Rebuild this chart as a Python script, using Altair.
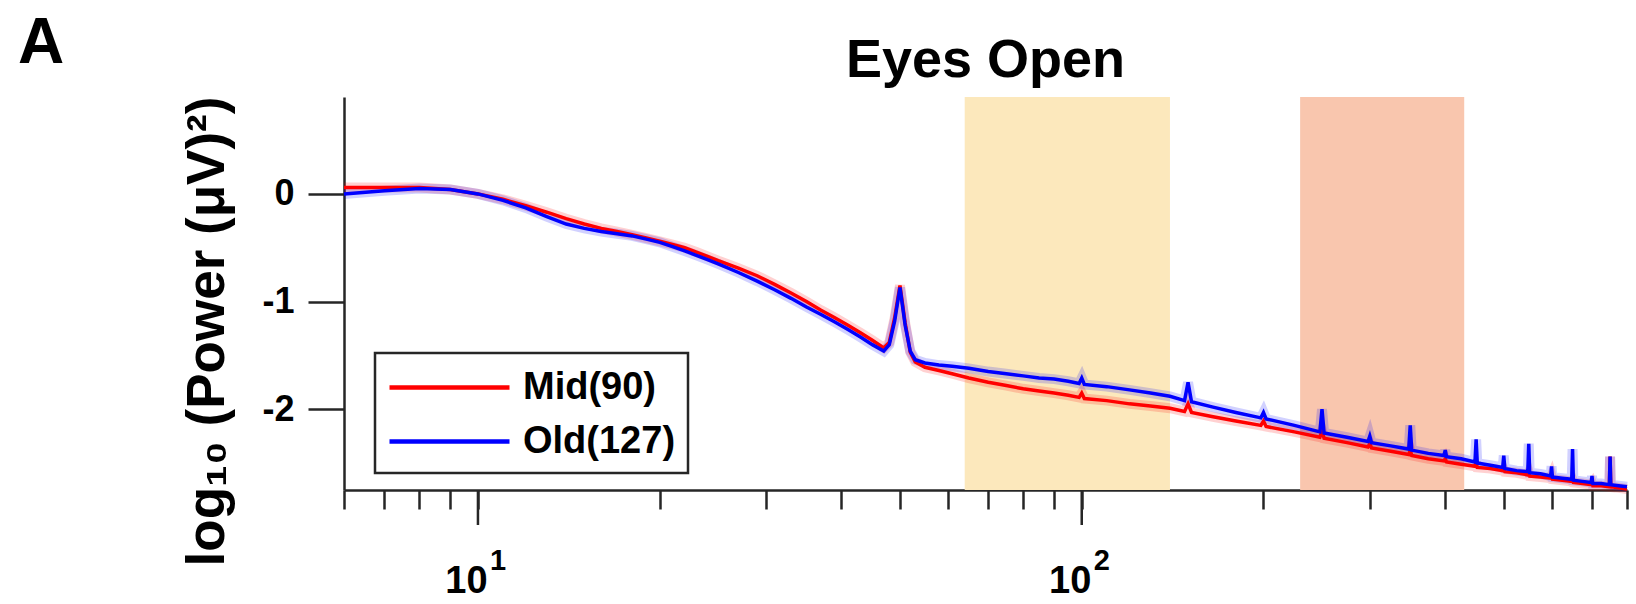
import altair as alt
import pandas as pd

# ---- spectrum data: frequency (Hz) and log10 power for the two age groups ----
freq = [6, 7, 8, 9, 10, 11, 12, 13, 14, 15, 16, 17, 18, 19, 20, 21, 22, 23, 24, 25,
        27, 29, 31, 33, 35, 37, 39, 41, 43, 45, 47, 48, 49, 50, 51, 52, 53, 55, 58, 61,
        65, 70, 75, 80, 85, 90, 95, 99, 100, 101, 110, 120, 130, 140, 148, 150, 152,
        165, 180, 198, 200, 202, 225, 248, 250, 252, 275, 298, 300, 302, 325, 348, 350,
        352, 375, 398, 400, 402, 425, 448, 450, 452, 475, 498, 500, 502, 525, 548, 550,
        552, 575, 598, 600, 602, 625, 648, 650, 652, 675, 698, 700, 702, 725, 748, 750,
        752, 775, 800]

mid_power = [0.06, 0.06, 0.06, 0.04, 0.00, -0.05, -0.11, -0.17, -0.23, -0.28, -0.32, -0.35,
             -0.38, -0.41, -0.44, -0.47, -0.50, -0.54, -0.58, -0.62,
             -0.69, -0.76, -0.84, -0.92, -1.00, -1.08, -1.15, -1.22, -1.29, -1.36, -1.43,
             -1.38, -1.15, -0.85, -1.20, -1.47, -1.56, -1.61, -1.64, -1.67,
             -1.71, -1.75, -1.78, -1.81, -1.83, -1.85, -1.87, -1.89, -1.85, -1.90, -1.92,
             -1.95, -1.97, -1.99, -2.02, -1.95, -2.03,
             -2.07, -2.11, -2.15, -2.11, -2.16, -2.21, -2.26, -2.20, -2.27, -2.31, -2.35,
             -2.32, -2.36, -2.39, -2.42, -2.38,
             -2.43, -2.46, -2.48, -2.46, -2.49, -2.51, -2.53, -2.49, -2.54, -2.55, -2.57,
             -2.56, -2.58, -2.59, -2.61, -2.59,
             -2.62, -2.63, -2.64, -2.62, -2.65, -2.66, -2.67, -2.66, -2.68, -2.69, -2.70,
             -2.69, -2.71, -2.71, -2.72, -2.44,
             -2.72, -2.73, -2.74]

old_power = [0.00, 0.03, 0.05, 0.04, 0.00, -0.06, -0.13, -0.21, -0.28, -0.32, -0.35, -0.37,
             -0.39, -0.42, -0.45, -0.49, -0.53, -0.57, -0.61, -0.65,
             -0.73, -0.81, -0.89, -0.97, -1.05, -1.12, -1.19, -1.26, -1.33, -1.40, -1.46,
             -1.40, -1.18, -0.87, -1.22, -1.46, -1.54, -1.57, -1.59, -1.60,
             -1.62, -1.65, -1.67, -1.69, -1.71, -1.72, -1.74, -1.76, -1.71, -1.77, -1.79,
             -1.82, -1.85, -1.88, -1.92, -1.75, -1.93,
             -1.98, -2.03, -2.08, -2.03, -2.09, -2.15, -2.21, -2.00, -2.22, -2.26, -2.30,
             -2.25, -2.31, -2.34, -2.37, -2.15,
             -2.38, -2.41, -2.43, -2.38, -2.44, -2.46, -2.49, -2.28, -2.50, -2.52, -2.54,
             -2.43, -2.55, -2.57, -2.58, -2.32,
             -2.59, -2.60, -2.62, -2.53, -2.63, -2.64, -2.65, -2.37, -2.66, -2.67, -2.68,
             -2.62, -2.69, -2.69, -2.70, -2.44,
             -2.70, -2.71, -2.72]

group_names = ["Mid(90)", "Old(127)"]
group_colors = ["#ff0000", "#0000ff"]

# shaded frequency bands (Hz)
band_low = [64, 230]
band_high = [140, 430]
band_colors = ["#fce8bc", "#f9c6ae"]

x_tick_values = [6, 7, 8, 9, 10, 20, 30, 40, 50, 60, 70, 80, 90,
                 100, 200, 300, 400, 500, 600, 700, 800]
x_decades = [10, 100]
x_decade_exponents = ["1", "2"]
y_tick_values = [0, -1, -2]
panel_label = ["A"]
panel_title = ["Eyes Open"]

FONT = "Liberation Sans"
INK = "#262626"
W, H = 1283, 393

spectra = pd.DataFrame({
    "freq": freq + freq,
    "power": mid_power + old_power,
    "group": [group_names[0]] * len(freq) + [group_names[1]] * len(freq),
})
bands = pd.DataFrame({"freq": band_low, "hi": band_high, "fill": band_colors})
decades = pd.DataFrame({"freq": x_decades, "exp": x_decade_exponents})
label_df = pd.DataFrame({"t": panel_label})
title_df = pd.DataFrame({"t": panel_title})

x_scale = alt.Scale(type="log", domain=[6, 800], nice=False)
y_scale = alt.Scale(domain=[-2.75, 0.9], nice=False, zero=False)

x_axis = alt.Axis(
    title=None,
    values=x_tick_values,
    tickSize=19,
    tickWidth=2.5,
    tickColor=INK,
    domainColor=INK,
    domainWidth=2.5,
    labelExpr="(datum.value == 10 || datum.value == 100) ? '10' : ''",
    labelFont=FONT,
    labelFontSize=38,
    labelFontWeight="bold",
    labelColor="black",
    labelPadding=53,
    labelOffset=-12,
    labelBaseline="top",
    labelFlush=False,
    labelOverlap=False,
    grid=False,
)
y_axis = alt.Axis(
    title="log₁₀ (Power (μV)²)",
    values=y_tick_values,
    tickSize=36,
    tickWidth=2.5,
    tickColor=INK,
    domainColor=INK,
    domainWidth=2.5,
    labelExpr="'' + datum.value",
    labelFont=FONT,
    labelFontSize=36,
    labelFontWeight="bold",
    labelColor="black",
    labelPadding=14,
    grid=False,
    titleFont=FONT,
    titleFontSize=53,
    titleFontWeight="bold",
    titleColor="black",
    titleAngle=270,
    titleAlign="center",
    titleBaseline="middle",
    titleX=-137,
    titleY=234,
)
X = alt.X("freq:Q", scale=x_scale, axis=x_axis)
Y = alt.Y("power:Q", scale=y_scale, axis=y_axis)
color_scale = alt.Scale(domain=group_names, range=group_colors)

band_layer = alt.Chart(bands).mark_rect().encode(
    x=X,
    x2="hi:Q",
    y=alt.value(0),
    y2=alt.value(H),
    fill=alt.Fill("fill:N", scale=None),
)

# soft halo under each line (group spread), one layer per group
halos = [
    alt.Chart(spectra)
    .transform_filter(alt.datum.group == name)
    .mark_line(strokeWidth=10, opacity=0.18, color=col)
    .encode(x=X, y=Y)
    for name, col in zip(group_names, group_colors)
]

lines = alt.Chart(spectra).mark_line(strokeWidth=3.5).encode(
    x=X, y=Y,
    color=alt.Color("group:N", scale=color_scale, legend=alt.Legend(title=None)),
)

# longer ticks at the decades
major_ticks = alt.Chart(decades).mark_rule(color=INK, strokeWidth=2.5).encode(
    x=X, y=alt.value(H), y2=alt.value(H + 35),
)

# decade exponents, raised beside the "10" tick labels
exponents = alt.Chart(decades).mark_text(
    font=FONT, fontSize=29, fontWeight="bold", align="left", baseline="alphabetic",
    color="black", dx=12,
).encode(x=X, y=alt.value(H + 80), text="exp:N")

panel_text = alt.Chart(label_df).mark_text(
    font=FONT, fontSize=64, fontWeight="bold", align="left", baseline="alphabetic", color="black"
).encode(text="t:N", x=alt.value(-326), y=alt.value(-34))

title_text = alt.Chart(title_df).mark_text(
    font=FONT, fontSize=54, fontWeight="bold", align="center", baseline="alphabetic", color="black"
).encode(text="t:N", x=alt.value(W / 2), y=alt.value(-20))

chart = alt.layer(
    band_layer, *halos, lines, major_ticks, exponents, panel_text, title_text
).properties(
    width=W,
    height=H,
    autosize=alt.AutoSizeParams(type="none"),
    padding={"left": 344, "top": 97, "right": 9, "bottom": 114},
).configure_view(stroke=None).configure_legend(
    orient="none",
    legendX=31,
    legendY=256,
    direction="vertical",
    strokeColor=INK,
    strokeWidth=2.5,
    fillColor="white",
    padding=12,
    symbolType="M-1,0H5",
    symbolSize=1600,
    symbolStrokeWidth=4.5,
    labelFont=FONT,
    labelFontSize=38,
    labelFontWeight="bold",
    labelColor="black",
    labelOffset=91,
    labelLimit=400,
    rowPadding=12,
)

chart.save("out.html", embed_options={"renderer": "svg", "actions": False})
